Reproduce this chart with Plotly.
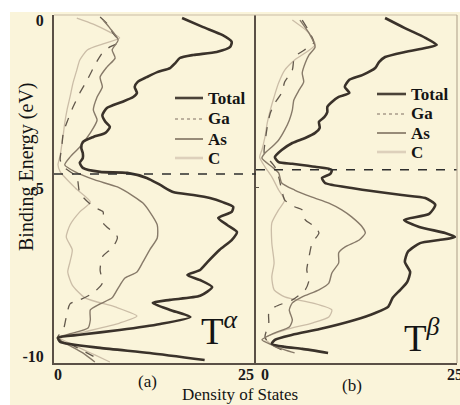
import plotly.graph_objects as go

# ---------------- data ----------------
# Panel (a): T-alpha
E_total_a = [0.06,-0.21,-0.45,-0.65,-0.80,-0.95,-1.04,-1.13,-1.28,-1.43,-1.55,-1.70,-1.84,-1.99,-2.17,-2.29,-2.44,-2.62,-2.83,-3.03,
             -3.18,-3.36,-3.48,-3.63,-3.81,-3.96,-4.11,-4.25,-4.40,-4.52,-4.55,-4.70,-4.91,-5.12,-5.21,-5.30,-5.42,-5.56,-5.71,-5.89,
             -6.10,-6.31,-6.55,-6.84,-7.20,-7.44,-7.59,-7.74,-7.95,-8.21,-8.33,-8.42,-8.63,-8.84,-9.05,-9.23,-9.37,-9.46,-9.58,-9.76,
             -9.91,-10.12]
dos_total_a = [16.5,19.3,21.9,23.1,22.9,21.1,18.0,16.2,15.6,14.9,13.2,11.8,10.6,10.2,10.5,10.0,8.5,6.5,5.9,6.3,
               6.9,6.3,4.7,3.3,3.1,3.3,3.3,2.9,3.3,5.6,9.2,11.8,13.6,15.3,18.0,20.2,21.9,23.3,23.1,21.3,
               22.5,23.8,23.1,21.5,19.9,18.9,17.2,18.9,20.5,18.9,14.9,12.6,14.9,17.6,13.6,8.2,2.9,0.0,0.3,5.6,
               12.2,19.5]

E_as_a = [0.00,-0.24,-0.59,-0.89,-1.13,-1.40,-1.70,-1.99,-2.29,-2.68,-2.98,-3.36,-3.78,-4.08,-4.31,-4.52,-4.76,-4.97,-5.24,-5.45,
          -5.71,-6.10,-6.49,-6.84,-7.20,-7.50,-7.68,-7.98,-8.27,-8.45,-8.63,-8.93,-9.17,-9.34,-9.46,-9.61,-9.91,-10.18]
dos_as_a = [6.0,6.9,8.0,7.2,7.6,6.5,5.6,5.9,5.2,4.7,5.2,4.3,2.9,1.6,0.9,2.3,4.9,7.9,10.0,11.3,
            12.2,13.2,13.2,12.2,11.3,10.5,8.9,8.0,7.2,5.6,4.3,4.3,4.0,1.6,-0.1,0.9,3.3,4.9]

E_ga_a = [0.09,-0.15,-0.39,-0.65,-0.80,-0.95,-1.34,-1.78,-2.17,-2.59,-2.98,-3.36,-3.78,-4.17,-4.40,-4.67,-5.15,-5.56,-5.71,-6.04,
          -6.46,-6.76,-7.05,-7.44,-7.83,-8.12,-8.33,-8.45,-8.84,-9.23,-9.46,-9.64,-9.88,-10.12]
dos_ga_a = [5.6,6.7,7.3,8.2,6.9,6.0,4.9,3.9,2.9,2.0,1.3,0.7,0.5,0.3,0.9,2.5,2.9,4.7,6.0,6.0,
            7.9,7.3,5.9,5.6,5.9,4.7,2.9,1.6,1.1,0.7,-0.1,1.6,3.6,5.6]

E_c_a = [0.06,-0.12,-0.36,-0.53,-0.71,-0.89,-1.19,-1.49,-1.87,-2.29,-2.68,-3.06,-3.42,-3.72,-4.02,-4.31,-4.52,-5.00,-5.42,-5.71,
         -6.10,-6.46,-6.84,-7.20,-7.50,-7.89,-8.27,-8.54,-8.81,-9.02,-9.28,-9.46,-9.70,-9.97,-10.18]
dos_c_a = [2.5,4.7,6.9,8.2,6.0,3.9,2.9,2.5,2.0,1.6,1.2,0.9,0.7,0.5,0.3,0.0,0.3,2.3,4.3,2.9,
           1.6,1.1,1.9,1.6,1.3,1.9,3.6,7.6,10.5,8.2,3.6,0.3,2.3,4.9,6.9]

# Panel (b): T-beta
E_total_b = [0.06,-0.24,-0.53,-0.74,-0.83,-0.95,-1.10,-1.25,-1.43,-1.64,-1.78,-1.99,-2.17,-2.29,-2.44,-2.59,-2.74,-2.89,-3.03,-3.21,
             -3.36,-3.51,-3.66,-3.87,-4.08,-4.23,-4.28,-4.37,-4.46,-4.58,-4.70,-4.85,-5.00,-5.12,-5.21,-5.30,-5.50,-5.77,-5.95,-6.16,
             -6.34,-6.46,-6.55,-6.64,-6.90,-7.20,-7.50,-7.80,-8.03,-8.27,-8.54,-8.72,-8.93,-9.20,-9.37,-9.52,-9.64,-9.73,-9.79,-9.91]
dos_total_b = [15.8,18.4,21.1,22.6,21.1,18.4,15.8,15.0,14.5,12.8,11.1,10.5,11.1,9.7,8.8,8.2,8.2,7.8,7.1,7.2,
               6.6,5.3,3.6,2.2,1.3,1.8,3.6,6.6,8.8,8.6,7.5,7.9,11.4,15.0,18.0,21.1,22.4,21.6,18.3,20.3,
               23.7,25.0,22.9,20.4,18.8,18.4,19.1,18.7,17.8,16.8,16.2,14.5,11.8,7.2,3.6,1.3,0.9,2.6,4.9,8.3]

E_as_b = [0.00,-0.39,-0.80,-1.04,-1.28,-1.58,-1.84,-2.08,-2.38,-2.68,-2.98,-3.27,-3.57,-3.78,-3.96,-4.11,-4.37,-4.55,-4.85,-5.06,
          -5.27,-5.45,-5.65,-5.86,-6.16,-6.34,-6.55,-6.76,-6.93,-7.23,-7.53,-7.83,-8.03,-8.24,-8.42,-8.63,-8.93,-9.14,-9.31,-9.52,
          -9.67,-9.82,-9.91]
dos_as_b = [4.6,5.8,6.6,5.8,5.3,4.9,5.1,4.5,3.8,3.6,3.2,2.6,1.8,0.9,0.0,-0.4,0.9,1.8,2.2,3.9,
            6.2,8.4,10.1,11.4,12.8,13.2,12.4,10.5,9.7,9.7,8.8,8.4,7.1,4.9,3.6,3.2,3.6,3.2,1.3,-0.4,
            0.9,2.6,3.9]

E_ga_b = [0.00,-0.30,-0.68,-1.10,-1.49,-1.84,-2.17,-2.47,-2.77,-3.18,-3.66,-3.96,-4.37,-4.67,-5.06,-5.36,-5.56,-5.65,-5.95,-6.16,
          -6.34,-6.64,-7.05,-7.44,-7.74,-8.03,-8.33,-8.54,-8.72,-9.02,-9.43,-9.61,-9.82]
dos_ga_b = [4.9,5.7,6.4,3.9,3.6,2.6,2.2,1.3,0.7,0.3,0.0,-0.1,1.3,1.8,2.2,2.6,3.9,4.9,5.3,6.6,
            7.1,6.2,5.8,5.5,5.8,5.3,3.6,1.3,0.5,0.5,0.0,0.5,2.2]

E_c_b = [0.00,-0.39,-0.74,-1.19,-1.49,-1.87,-2.29,-2.68,-3.06,-3.48,-3.87,-4.08,-4.37,-4.67,-5.06,-5.36,-5.65,-6.04,-6.64,-7.23,
         -7.65,-8.03,-8.24,-8.42,-8.63,-8.84,-9.02,-9.23,-9.46,-9.67,-9.82]
dos_c_b = [3.6,5.8,6.6,3.9,2.6,1.8,1.2,0.7,0.3,0.0,-0.4,-0.7,0.0,0.9,1.8,2.6,1.8,0.9,0.9,1.2,
           0.9,1.2,2.6,6.2,8.8,8.4,6.2,2.6,0.0,0.9,2.2]

fermi_a = -4.58
fermi_b = -4.46

series_names = ["Total", "Ga", "As", "C"]
x_tick_vals = [0, 25]
x_tick_text = ["0", "25"]
y_tick_vals = [0, -5, -10]
y_tick_text = ["0", "-5", "-10"]
panel_labels = ["(a)", "(b)"]
phase_labels = ["T<sup><i>\u03b1</i></sup>", "T<sup><i>\u03b2</i></sup>"]

# ---------------- styling ----------------
W, H = 460, 405
ML, MR, MT, MB = 54, 3, 15, 42
PW, PH = W - ML - MR, H - MT - MB
SPLIT = 256  # pixel x of panel divider


def px(xp):
    return (xp - ML) / PW


def py(yp):
    return (H - MB - yp) / PH


BG = "#FAF4DA"
AXIS = "#5a5046"
FONT = "Liberation Serif"
style = {
    "Total": dict(color="#3a322a", width=2.6),
    "Ga": dict(color="#62584c", width=1.3, dash="dash"),
    "As": dict(color="#877a69", width=1.4),
    "C": dict(color="#cbbda7", width=1.3),
}
legend_style = {
    "Total": dict(color="#4a4238", width=2.6),
    "Ga": dict(color="#a89b8a", width=1.6, dash="dot"),
    "As": dict(color="#8c7f6e", width=1.8),
    "C": dict(color="#ddd0bb", width=2.6),
}

fig = go.Figure()

panels = [
    ("x", "y", [(E_total_a, dos_total_a), (E_ga_a, dos_ga_a), (E_as_a, dos_as_a), (E_c_a, dos_c_a)]),
    ("x2", "y2", [(E_total_b, dos_total_b), (E_ga_b, dos_ga_b), (E_as_b, dos_as_b), (E_c_b, dos_c_b)]),
]
order = [3, 1, 2, 0]  # draw C, Ga, As, then Total on top
for xa, ya, data in panels:
    for i in order:
        name = series_names[i]
        E, d = data[i]
        fig.add_trace(go.Scatter(
            x=d, y=E, mode="lines", name=name, xaxis=xa, yaxis=ya,
            line=dict(shape="spline", smoothing=0.6, **style[name]),
            showlegend=False, hoverinfo="skip"))

# Fermi-level dashed lines
for xa, ya, ef in [("x", "y", fermi_a), ("x2", "y2", fermi_b)]:
    fig.add_shape(type="line", xref=xa + " domain", yref=ya, x0=0, x1=1, y0=ef, y1=ef,
                  line=dict(color="#2e2e2e", width=1.5, dash="dash"))

tickfont = dict(family=FONT, size=16, color="#1a1a1a", weight="bold")
common_x = dict(showgrid=False, zeroline=False, showline=True, linecolor=AXIS, linewidth=2,
                tickvals=x_tick_vals, ticktext=x_tick_text, ticks="", tickfont=tickfont,
                ticklabelstandoff=-4, ticklabeloverflow="allow", automargin=False, fixedrange=True)
d_split = (SPLIT - ML) / PW
fig.update_layout(
    template="none",
    width=W, height=H,
    margin=dict(l=ML, r=MR, t=MT, b=MB, autoexpand=False),
    paper_bgcolor="white", plot_bgcolor=BG,
    showlegend=False,
    xaxis=dict(domain=[0, d_split], range=[-0.53, 26.33], anchor="y", **common_x),
    xaxis2=dict(domain=[d_split, 1], range=[-1.18, 25.26], anchor="y2", **common_x),
    yaxis=dict(range=[-10.21, 0.15], anchor="x", showgrid=False, zeroline=False, showline=True,
               linecolor=AXIS, linewidth=2, tickvals=y_tick_vals, ticktext=y_tick_text,
               ticks="", tickfont=tickfont, ticklabelstandoff=5, automargin=False, fixedrange=True),
    yaxis2=dict(range=[-10.21, 0.15], anchor="x2", matches="y", showgrid=False, zeroline=False,
                showline=True, linecolor=AXIS, linewidth=2, showticklabels=False,
                tickvals=[-5], ticks="inside", ticklen=3, tickcolor=AXIS, automargin=False),
)

# cream background of the whole figure area
fig.add_shape(type="rect", xref="paper", yref="paper", x0=px(10), x1=px(W + 2), y0=py(H + 2), y1=py(12),
              fillcolor=BG, line=dict(width=0), layer="below")
# light top and right frame
fig.add_shape(type="line", xref="paper", yref="paper", x0=0, x1=1, y0=1, y1=1,
              line=dict(color="#c9bca6", width=1))
fig.add_shape(type="line", xref="paper", yref="paper", x0=1, x1=1, y0=0, y1=1,
              line=dict(color="#b9ab95", width=1.2))

# manual legends
legend_pos = [
    dict(x0=175, x1=203, tx=206, rows=[98, 119, 139, 158]),
    dict(x0=377, x1=406, tx=409, rows=[94, 114, 133, 152]),
]
for lp in legend_pos:
    for name, ry in zip(series_names, lp["rows"]):
        fig.add_shape(type="line", xref="paper", yref="paper", x0=px(lp["x0"]), x1=px(lp["x1"]),
                      y0=py(ry), y1=py(ry), line=legend_style[name])
        fig.add_annotation(x=px(lp["tx"]), y=py(ry), xref="paper", yref="paper", text=name,
                           showarrow=False, xanchor="left", yanchor="middle",
                           font=dict(family=FONT, size=17, color="#141414", weight="bold"))

# phase labels
for (xp, yp), txt in zip([(199, 328), (402, 335)], phase_labels):
    fig.add_annotation(x=px(xp), y=py(yp), xref="paper", yref="paper", text=txt, showarrow=False,
                       xanchor="left", yanchor="middle",
                       font=dict(family=FONT, size=37, color="#141414"))

# panel labels
for (xp, yp), txt in zip([(147, 382), (352, 385)], panel_labels):
    fig.add_annotation(x=px(xp), y=py(yp), xref="paper", yref="paper", text=txt, showarrow=False,
                       xanchor="center", yanchor="middle",
                       font=dict(family=FONT, size=17, color="#141414"))

# axis titles
fig.add_annotation(x=px(240), y=py(395), xref="paper", yref="paper", text="Density of States",
                   showarrow=False, xanchor="center", yanchor="middle",
                   font=dict(family=FONT, size=17, color="#141414"))
fig.add_annotation(x=px(26), y=py(167), xref="paper", yref="paper", text="Binding Energy (eV)",
                   showarrow=False, textangle=-90, xanchor="center", yanchor="middle",
                   font=dict(family=FONT, size=20, color="#141414"))

fig.write_html("out.html", config={"displayModeBar": False},
               post_script="document.body.style.margin='0';")
